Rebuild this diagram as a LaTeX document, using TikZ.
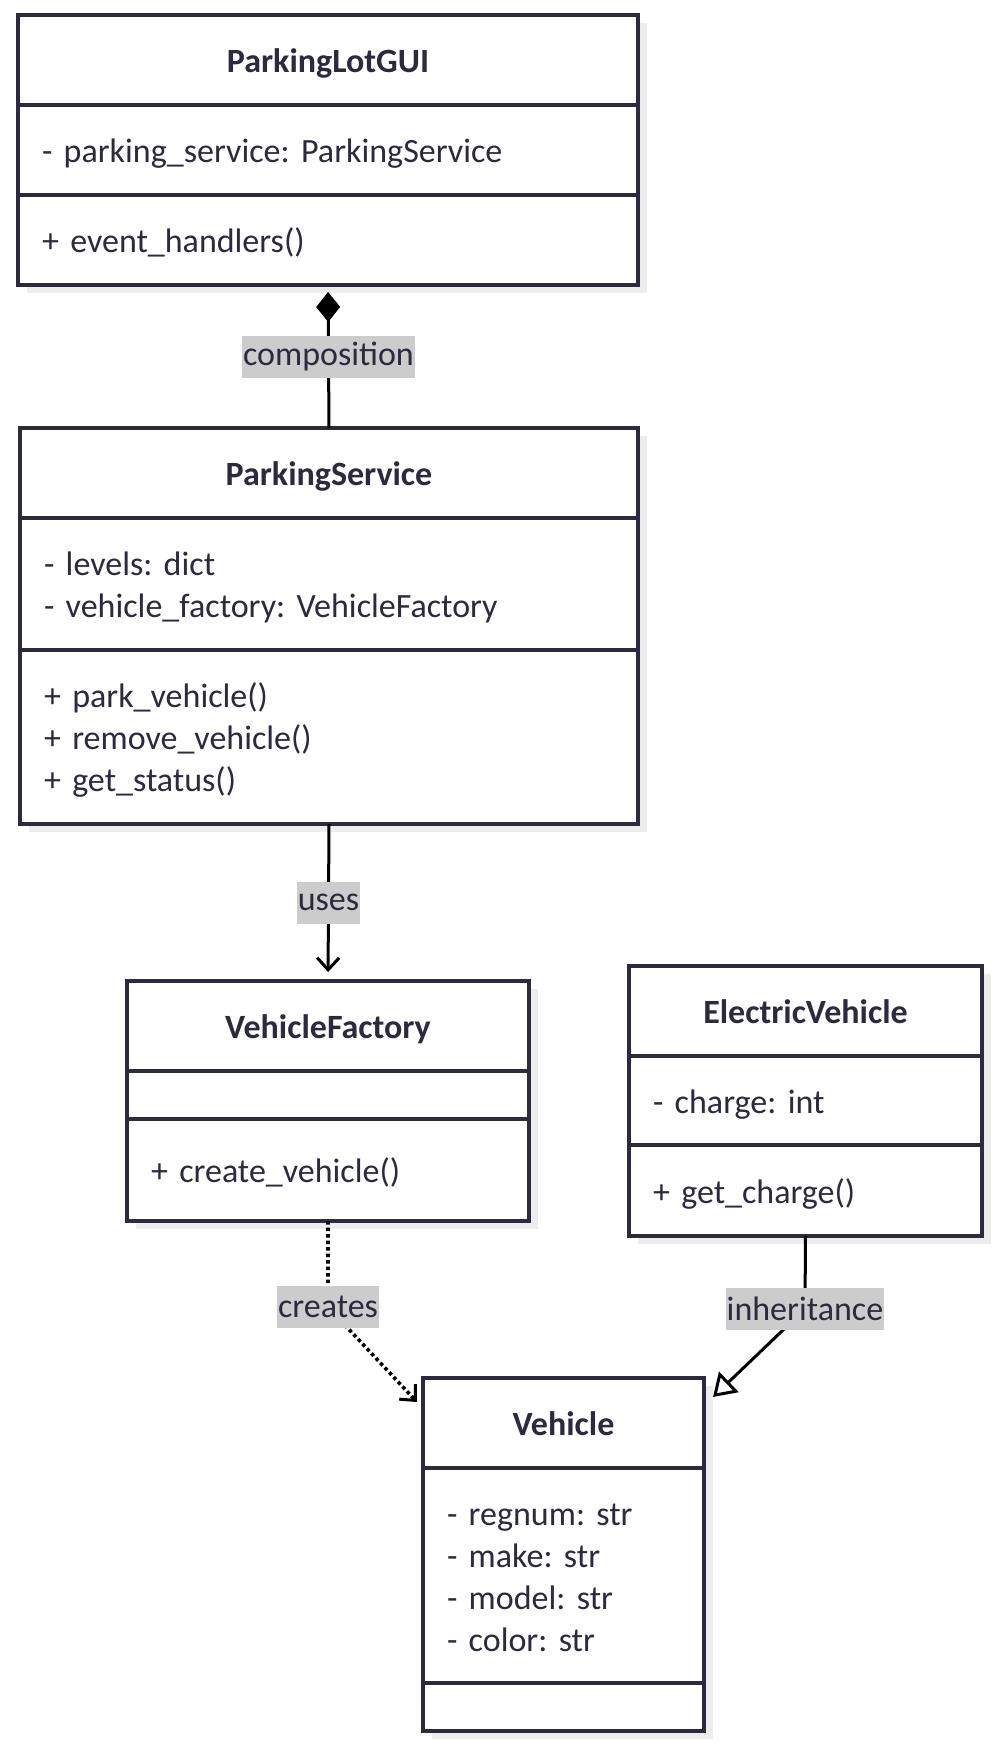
\documentclass[tikz,border=0pt]{standalone}
\usepackage{fontspec}
\setmainfont{Carlito}
\frenchspacing
\usetikzlibrary{arrows.meta,positioning,shadows}
\definecolor{ink}{HTML}{2B2A3F}
\definecolor{lblgray}{HTML}{CCCCCC}
\definecolor{shade}{HTML}{EDEDED}
\tikzset{
  box/.style={draw=ink, line width=3.3pt, fill=white, text=ink, outer sep=0pt, inner sep=0pt,
    font=\fontsize{34}{42}\selectfont,
    drop shadow={shadow xshift=9pt, shadow yshift=-8pt, fill=shade, opacity=1}},
  head/.style={box, font=\fontsize{34}{42}\selectfont\bfseries, text height=24pt, text depth=0pt,
    minimum width=#1, minimum height=90pt},
  part/.style 2 args={box, align=left, text width=#1, inner xsep=24pt, minimum height=#2,
    execute at begin node={\rule{0pt}{33pt}}, execute at end node={\rule[-8pt]{0pt}{8pt}}},
  link/.style={draw=black, line width=3pt},
  lbl/.style={fill=lblgray, text=ink, font=\fontsize{34}{42}\selectfont, inner xsep=1pt, inner ysep=0pt, minimum height=42pt}
}
\begin{document}
\begin{tikzpicture}[x=1pt,y=-1pt]
\useasboundingbox (0,0) rectangle (995,1748);
% classes
\node[head=620pt, anchor=north west] (plgT) at (18,15) {ParkingLotGUI};
\node[part={572pt}{90pt}, below=0pt of plgT] (plgA) {- parking\_service: ParkingService};
\node[part={572pt}{90pt}, below=0pt of plgA] (plgM) {+ event\_handlers()};

\node[head=618pt, anchor=north west] (psT) at (20,428) {ParkingService};
\node[part={570pt}{132pt}, below=0pt of psT] (psA) {- levels: dict\\- vehicle\_factory: VehicleFactory};
\node[part={570pt}{174pt}, below=0pt of psA] (psM) {+ park\_vehicle()\\+ remove\_vehicle()\\+ get\_status()};

\node[head=402pt, anchor=north west] (vfT) at (127,981) {VehicleFactory};
\node[part={354pt}{48pt}, below=0pt of vfT, execute at begin node={}, execute at end node={}] (vfA) {};
\node[part={354pt}{102pt}, below=0pt of vfA] (vfM) {+ create\_vehicle()};

\node[head=353pt, anchor=north west] (evT) at (629,966) {ElectricVehicle};
\node[part={305pt}{89pt}, below=0pt of evT] (evA) {- charge: int};
\node[part={305pt}{91pt}, below=0pt of evA] (evM) {+ get\_charge()};

\node[head=281pt, anchor=north west] (vehT) at (423,1378) {Vehicle};
\node[part={233pt}{215pt}, below=0pt of vehT] (vehA) {- regnum: str\\- make: str\\- model: str\\- color: str};
\node[part={233pt}{48pt}, below=0pt of vehA, execute at begin node={}, execute at end node={}] (vehM) {};

% relations
\coordinate (creL) at (328,1307);
\coordinate (creTip) at ([xshift=-6pt,yshift=-24pt]vehT.north west);
\coordinate (inhL) at (805,1309);
\coordinate (inhTip) at ([xshift=9pt,yshift=-19pt]vehT.north east);

\draw[link, {Diamond[length=30pt,width=24pt]}-, shorten <=7pt] (plgM.south) -- node[lbl]{composition} (psT.north);
\draw[link, -{Straight Barb[length=12pt,width=22pt]}, shorten >=9pt] (psM.south) -- node[lbl]{uses} (vfT.north);
\draw[link, line width=3.6pt, dash pattern=on 3.5pt off 3pt, -{Straight Barb[length=12pt,width=22pt,line width=3pt]}] (vfM.south) -- (creL) -- (creTip);
\draw[link, -{Triangle[open,length=22pt,width=28pt,fill=white]}] (evM.south) -- (inhL) -- (inhTip);
\node[lbl] at (creL) {creates};
\node[lbl] at (inhL) {inheritance};
\end{tikzpicture}
\end{document}
